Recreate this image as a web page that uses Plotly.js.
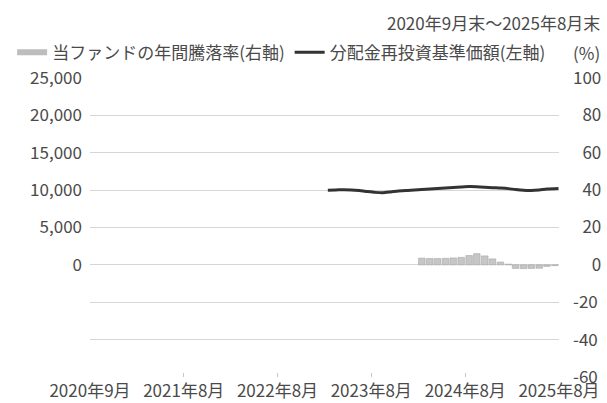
<!DOCTYPE html>
<html>
<head>
<meta charset="utf-8">
<script src="https://cdn.plot.ly/plotly-3.0.1.min.js"></script>
<style>html,body{margin:0;padding:0;background:#fff;}#chart{width:607px;height:403px;}</style>
</head>
<body>
<div id="chart"></div>
<script>
// 分配金再投資基準価額（左軸, 円）
const navDates = ["2023-03-15","2023-04-15","2023-05-15","2023-06-15","2023-07-15","2023-08-15",
  "2023-09-15","2023-10-15","2023-11-15","2023-12-15","2024-01-15","2024-02-15",
  "2024-03-15","2024-04-15","2024-05-15","2024-06-15","2024-07-15","2024-08-15",
  "2024-09-15","2024-10-15","2024-11-15","2024-12-15","2025-01-15","2025-02-15",
  "2025-03-15","2025-04-15","2025-05-15","2025-06-15","2025-07-15","2025-08-29"];
const navValues = [10000,10020,10060,10030,9950,9820,
  9700,9650,9760,9880,9960,10010,
  10080,10150,10230,10280,10350,10420,
  10480,10460,10400,10330,10280,10200,
  10080,9980,9960,10030,10150,10230];

// 当ファンドの年間騰落率（右軸, %）
const retDates = ["2024-03-15","2024-04-15","2024-05-15","2024-06-15","2024-07-15","2024-08-15",
  "2024-09-15","2024-10-15","2024-11-15","2024-12-15","2025-01-15","2025-02-15",
  "2025-03-15","2025-04-15","2025-05-15","2025-06-15","2025-07-15","2025-08-15"];
const retValues = [3.6,3.4,3.4,3.5,3.7,4.0,
  5.0,6.0,4.8,3.2,1.5,0.4,
  -1.9,-2.0,-1.9,-1.8,-0.8,-0.4];

const xTickVals = ["2020-08-31","2021-08-31","2022-08-31","2023-08-31","2024-08-31","2025-08-31"];
const xTickText = ["2020年9月","2021年8月","2022年8月","2023年8月","2024年8月","2025年8月"];
const leftTickVals = [0,5000,10000,15000,20000,25000];
const rightTickVals = [-60,-40,-20,0,20,40,60,80,100];
const rightTickText = ["-60","-40","-20","\u2007\u20070","\u200720","\u200740","\u200760","\u200780","100"];

const barName = "当ファンドの年間騰落率(右軸)";
const lineName = "分配金再投資基準価額(左軸)";
const periodText = "2020年9月末～2025年8月末";
const unitText = "(%)";

const FONT = "'Noto Sans CJK JP', 'Noto Sans', sans-serif";
const TXT = "#4a4a4a";
const GRID = "#d6d6d6";

const traces = [
  {type:"bar", x:retDates, y:retValues, yaxis:"y2", name:barName, showlegend:false,
   width:2.2e9, marker:{color:"#c6c6c6", line:{color:"#a6a6a6", width:0.6}}},
  {type:"scatter", mode:"lines", x:[null], y:[null], yaxis:"y2", name:barName,
   line:{color:"#bdbdbd", width:6}, hoverinfo:"skip"},
  {type:"scatter", mode:"lines", x:navDates, y:navValues, name:lineName,
   line:{color:"#333333", width:3, shape:"spline", smoothing:0.6}}
];

const layout = {
  width:607, height:403,
  margin:{l:79, r:48, t:78, b:26, pad:0},
  paper_bgcolor:"#fff", plot_bgcolor:"#fff",
  font:{family:FONT, size:17, color:TXT},
  showlegend:true,
  legend:{orientation:"h", x:-0.166, xanchor:"left", y:1.085, yanchor:"middle",
    font:{family:FONT, size:17, color:TXT}, traceorder:"normal",
    itemwidth:30, tracegroupgap:0, bgcolor:"rgba(0,0,0,0)"},
  xaxis:{type:"date", range:["2020-08-31","2025-08-31"], tickmode:"array",
    tickvals:xTickVals, ticktext:xTickText, showgrid:false, zeroline:false,
    showline:false, ticks:"inside", ticklen:4, tickcolor:"#c8c8c8",
    ticklabelstandoff:2,
    tickfont:{family:FONT, size:17, color:TXT}, automargin:false},
  yaxis:{range:[-15000,25000], tickmode:"array", tickvals:leftTickVals,
    tickformat:",d", showgrid:false, zeroline:false, showline:false,
    ticks:"", ticklabelstandoff:7,
    tickfont:{family:FONT, size:17, color:TXT}, automargin:false},
  yaxis2:{range:[-60,100], overlaying:"y", side:"right", tickmode:"array",
    tickvals:rightTickVals, ticktext:rightTickText, showgrid:true,
    gridcolor:GRID, gridwidth:1.2, zeroline:false, showline:false, ticks:"",
    ticklabelstandoff:13, tickfont:{family:FONT, size:17, color:TXT}, automargin:false},
  bargap:0,
  annotations:[
    {text:periodText, xref:"paper", yref:"paper", x:1.092, y:1.187,
     xanchor:"right", yanchor:"middle", showarrow:false,
     font:{family:FONT, size:17, color:TXT}},
    {text:unitText, xref:"paper", yref:"paper", x:1.092, y:1.085,
     xanchor:"right", yanchor:"middle", showarrow:false,
     font:{family:FONT, size:17, color:TXT}}
  ]
};

Plotly.newPlot("chart", traces, layout, {displayModeBar:false, staticPlot:true});
</script>
</body>
</html>
